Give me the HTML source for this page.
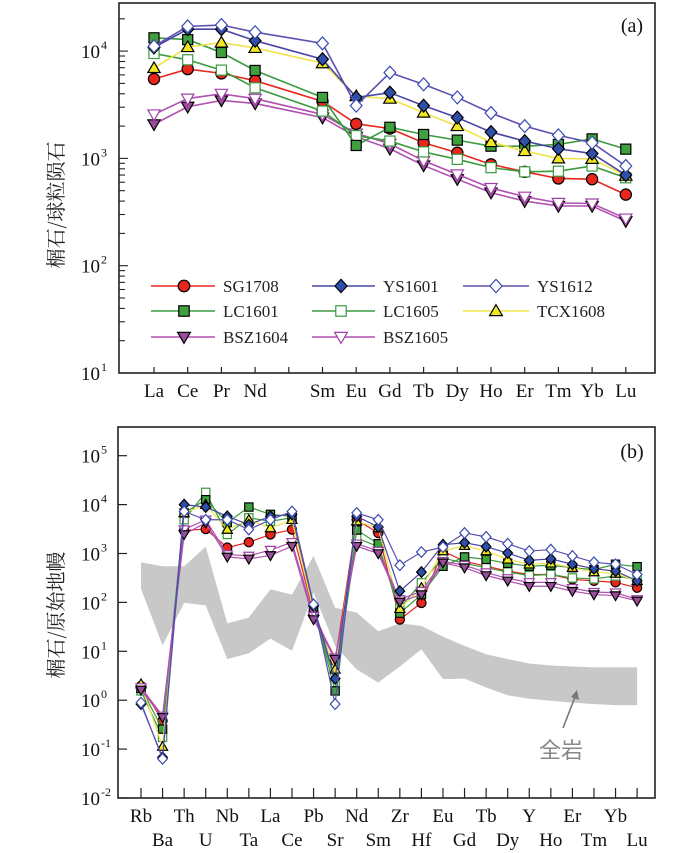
<!DOCTYPE html>
<html><head><meta charset="utf-8"><style>
html,body{margin:0;padding:0;background:#fff;}
svg{display:block;font-family:"Liberation Serif","Noto Serif CJK SC",serif;}
</style></head><body>
<svg id="chart" width="700" height="853" viewBox="0 0 700 853" xmlns="http://www.w3.org/2000/svg"></svg>
<script>
// ---------- Data: chart (a) chondrite-normalized REE ----------
const reeCategories = ["La","Ce","Pr","Nd","Pm","Sm","Eu","Gd","Tb","Dy","Ho","Er","Tm","Yb","Lu"];
const reeSG1708  = [5500,6800,6200,5300,null,3400,2100,1900,1400,1130,880,750,650,640,460];
const reeYS1601  = [10800,16000,16000,12500,null,8400,3700,4100,3100,2400,1760,1450,1230,1110,700];
const reeYS1612  = [11100,17000,17500,15000,null,11800,3100,6300,4900,3700,2650,2000,1640,1400,850];
const reeLC1601  = [13300,12800,9700,6600,null,3700,1320,1950,1670,1480,1300,1300,1350,1520,1220];
const reeLC1605  = [9500,8300,6650,4550,null,2760,1630,1450,1150,980,820,750,760,850,660];
const reeTCX1608 = [6950,10900,12000,10700,null,7700,3800,3600,2670,2000,1420,1170,1000,990,690];
const reeBSZ1604 = [2080,3030,3470,3250,null,2400,1590,1230,860,640,480,400,360,360,260];
const reeBSZ1605 = [2570,3610,4000,3600,null,2570,1710,1370,950,710,530,440,385,380,275];
const reeYTicks = [1,2,3,4];

// ---------- Data: chart (b) primitive-mantle normalized (log10 values) ----------
const pmCategories = ["Rb","Ba","Th","U","Nb","Ta","La","Ce","Pb","Sr","Nd","Sm","Zr","Hf","Eu","Gd","Tb","Dy","Y","Ho","Er","Tm","Yb","Lu"];
const pmSG1708  = [0.29,-0.42,3.47,3.50,3.12,3.23,3.39,3.49,1.79,0.80,3.69,3.42,1.65,1.99,3.05,2.84,2.74,2.64,2.57,2.57,2.47,2.44,2.41,2.30];
const pmYS1601  = [-0.08,-1.17,4.00,3.95,3.76,3.59,3.76,3.80,1.93,0.44,3.76,3.54,2.23,2.62,3.18,3.22,3.14,3.01,2.86,2.89,2.78,2.69,2.64,2.44];
const pmYS1612  = [-0.05,-1.20,3.86,3.69,3.69,3.49,3.69,3.86,1.96,-0.08,3.83,3.69,2.76,3.03,3.13,3.42,3.34,3.20,3.05,3.08,2.95,2.82,2.78,2.57];
const pmLC1601  = [0.24,-0.59,3.83,4.10,3.63,3.95,3.80,3.76,1.86,0.19,3.48,3.20,1.78,2.16,2.74,2.93,2.88,2.80,2.74,2.76,2.71,2.67,2.78,2.73];
const pmLC1605  = [0.19,-0.76,3.69,4.25,3.39,3.73,3.66,3.73,1.86,0.36,3.32,3.14,1.89,2.40,2.91,2.80,2.71,2.62,2.55,2.57,2.50,2.48,2.54,2.47];
const pmTCX1608 = [0.33,-0.95,3.83,4.00,3.49,3.69,3.52,3.69,1.82,0.63,3.66,3.52,1.87,2.30,3.05,3.16,3.05,2.88,2.78,2.80,2.71,2.62,2.59,2.44];
const pmBSZ1604 = [0.21,-0.35,3.39,3.63,2.93,2.89,2.96,3.15,1.65,0.84,3.15,3.00,2.01,2.16,2.81,2.71,2.55,2.44,2.33,2.33,2.23,2.16,2.14,2.03];
const pmBSZ1605 = [0.26,-0.32,3.49,3.69,2.98,2.95,3.07,3.23,1.72,0.87,3.20,3.05,2.06,2.23,2.84,2.76,2.61,2.49,2.41,2.41,2.29,2.21,2.20,2.06];
const wholeRockUpper = [2.82,2.74,2.74,3.14,1.57,1.69,2.27,2.16,2.95,1.89,1.79,1.41,1.57,1.52,1.30,1.11,0.94,0.84,0.75,0.71,0.69,0.67,0.67,0.67];
const wholeRockLower = [2.28,1.12,1.99,1.94,0.84,0.96,1.26,1.01,2.20,1.11,0.63,0.36,0.69,1.04,0.43,0.44,0.26,0.10,0.03,-0.01,-0.05,-0.08,-0.10,-0.10];
const pmYTicks = [-2,-1,0,1,2,3,4,5];

const seriesNames = ["SG1708","YS1601","YS1612","LC1601","LC1605","TCX1608","BSZ1604","BSZ1605"];

const styles = {
 SG1708:{line:"#e8261e",fill:"#e8261e",stroke:"#000",shape:"circle"},
 YS1601:{line:"#4a46a8",fill:"#2f4fa8",stroke:"#000",shape:"diamond"},
 YS1612:{line:"#5a50b0",fill:"#fff",stroke:"#3a4ab0",shape:"diamond"},
 LC1601:{line:"#3a9a3e",fill:"#3fa040",stroke:"#000",shape:"square"},
 LC1605:{line:"#3a9a3e",fill:"#fff",stroke:"#3a9a3e",shape:"square"},
 TCX1608:{line:"#f0e448",fill:"#f2e820",stroke:"#000",shape:"up"},
 BSZ1604:{line:"#b050b0",fill:"#9a4c9a",stroke:"#000",shape:"down"},
 BSZ1605:{line:"#b050b0",fill:"#fff",stroke:"#a040a8",shape:"down"}
};

const svg = document.getElementById('chart');
const NS = "http://www.w3.org/2000/svg";
function el(tag, attrs, parent){
  const e = document.createElementNS(NS, tag);
  for (const k in attrs) e.setAttribute(k, attrs[k]);
  (parent||svg).appendChild(e);
  return e;
}
function marker(g, shape, x, y, r, st){
  let m;
  const sw = 1.2;
  if (shape==="circle") m = el('circle',{cx:x,cy:y,r:r,fill:st.fill,stroke:st.stroke,'stroke-width':sw},g);
  else if (shape==="square") m = el('rect',{x:x-r*0.9,y:y-r*0.9,width:r*1.8,height:r*1.8,fill:st.fill,stroke:st.stroke,'stroke-width':sw},g);
  else if (shape==="diamond") m = el('polygon',{points:`${x},${y-r*1.15} ${x+r*1.05},${y} ${x},${y+r*1.15} ${x-r*1.05},${y}`,fill:st.fill,stroke:st.stroke,'stroke-width':sw},g);
  else if (shape==="up") m = el('polygon',{points:`${x},${y-r*1.1} ${x+r*1.1},${y+r*0.8} ${x-r*1.1},${y+r*0.8}`,fill:st.fill,stroke:st.stroke,'stroke-width':sw},g);
  else m = el('polygon',{points:`${x},${y+r*1.1} ${x+r*1.1},${y-r*0.8} ${x-r*1.1},${y-r*0.8}`,fill:st.fill,stroke:st.stroke,'stroke-width':sw},g);
  return m;
}

// ========== Chart (a) ==========
const A = {left:119,right:655,top:3,bottom:373};
const ax = i => 154 + i*33.7;
const ay = v => 373 - (Math.log10(v)-1)*107.3;

const gA = el('g',{});



const reeData = {SG1708:reeSG1708,YS1601:reeYS1601,YS1612:reeYS1612,LC1601:reeLC1601,LC1605:reeLC1605,TCX1608:reeTCX1608,BSZ1604:reeBSZ1604,BSZ1605:reeBSZ1605};
const drawOrderA = ["BSZ1604","BSZ1605","SG1708","LC1605","LC1601","TCX1608","YS1601","YS1612"];
drawOrderA.forEach(name=>{
  const st = styles[name], vals = reeData[name];
  const g = el('g',{},gA);
  
  
  const pts = [];
  vals.forEach((v,i)=>{ if(v!=null) pts.push([ax(i),ay(v)]); });
  const pl = el('polyline',{points:pts.map(p=>p.join(',')).join(' '),fill:'none',stroke:st.line,'stroke-width':1.6},g);
  
  
  pts.forEach(p=>{
    const m = marker(g, st.shape, p[0], p[1], 5.6, st);
    
    
  });
});

const fA = el('rect',{x:A.left,y:A.top,width:A.right-A.left,height:A.bottom-A.top,fill:'none',stroke:'#222','stroke-width':1.6},gA);


reeCategories.forEach((c,i)=>{
  el('line',{x1:ax(i),x2:ax(i),y1:A.bottom,y2:A.bottom-6,stroke:'#222','stroke-width':1.2},gA);
  if (c!=="Pm"){
    const t = el('text',{x:ax(i),y:397,'text-anchor':'middle','font-size':19,fill:'#111'},gA);
    t.textContent = c;
    
    
  }
});
for (let d=1; d<=4; d++){
  for (let k=1;k<=9;k++){
    const y = ay(k*Math.pow(10,d));
    if (y < A.top) continue;
    el('line',{x1:A.left,x2:A.left+(k===1?9:6),y1:y,y2:y,stroke:'#222','stroke-width':1.1},gA);
  }
}
reeYTicks.forEach(e=>{
  const t = el('text',{x:100,y:ay(Math.pow(10,e))+7,'text-anchor':'end','font-size':19,fill:'#111'},gA);
  t.textContent = '10';
  
  
  const s = el('text',{x:101,y:ay(Math.pow(10,e))-2,'font-size':12,fill:'#111'},gA);
  s.textContent = String(e);
});
const yTitleA = el('text',{x:0,y:0,transform:'translate(63,205) rotate(-90)','text-anchor':'middle','font-size':20,fill:'#222','font-family':'"Noto Serif CJK SC","Noto Sans CJK SC",serif'},gA);
yTitleA.textContent = '榍石/球粒陨石';


const labA = el('text',{x:632,y:32,'text-anchor':'middle','font-size':20,fill:'#111'},gA);
labA.textContent='(a)';



const legendCols = [[151,215,184,223],[312,375,341,383],[463,529,496,537]];
const legendRows = [286,311,337];
const legendLayout = [["SG1708","YS1601","YS1612"],["LC1601","LC1605","TCX1608"],["BSZ1604","BSZ1605"]];
const gL = el('g',{},gA);


legendLayout.forEach((row,ri)=>row.forEach((name,ci)=>{
  const st = styles[name], c = legendCols[ci], y = legendRows[ri];
  const g = el('g',{},gL);
  
  
  el('line',{x1:c[0],x2:c[1],y1:y,y2:y,stroke:st.line,'stroke-width':1.6},g);
  marker(g, st.shape, c[2], y, 5.8, st);
  const t = el('text',{x:c[3],y:y+6,'font-size':17,fill:'#222'},g);
  t.textContent = name;
}));

// ========== Chart (b) ==========
const B = {left:118,right:655,top:427,bottom:798};
const bx = i => 141 + i*21.57;
const by = lv => 798 - (lv+2)*48.9;

const gB = el('g',{});



const bandPts = wholeRockUpper.map((v,i)=>bx(i)+','+by(v)).concat(wholeRockLower.map((v,i)=>[i,v]).reverse().map(p=>bx(p[0])+','+by(p[1])));
const band = el('polygon',{points:bandPts.join(' '),fill:'#c8c8c8',stroke:'none'},gB);



const pmData = {SG1708:pmSG1708,YS1601:pmYS1601,YS1612:pmYS1612,LC1601:pmLC1601,LC1605:pmLC1605,TCX1608:pmTCX1608,BSZ1604:pmBSZ1604,BSZ1605:pmBSZ1605};
const drawOrderB = ["SG1708","LC1605","LC1601","TCX1608","BSZ1605","BSZ1604","YS1601","YS1612"];
drawOrderB.forEach(name=>{
  const st = styles[name], vals = pmData[name];
  const g = el('g',{},gB);
  
  
  const pts = vals.map((v,i)=>[bx(i),by(v)]);
  const pl = el('polyline',{points:pts.map(p=>p.join(',')).join(' '),fill:'none',stroke:st.line,'stroke-width':1.2},g);
  
  
  pts.forEach(p=>{
    const m = marker(g, st.shape, p[0], p[1], 4.6, st);
    
    
  });
});

const fB = el('rect',{x:B.left,y:B.top,width:B.right-B.left,height:B.bottom-B.top,fill:'none',stroke:'#222','stroke-width':1.6},gB);


pmCategories.forEach((c,i)=>{
  el('line',{x1:bx(i),x2:bx(i),y1:B.bottom,y2:B.bottom-10,stroke:'#222','stroke-width':1.2},gB);
  const t = el('text',{x:bx(i),y:(i%2===0)?822:846,'text-anchor':'middle','font-size':19,fill:'#111'},gB);
  t.textContent = c;
  
  
});
pmYTicks.forEach(e=>{
  const y = by(e);
  el('line',{x1:B.left,x2:B.left+9,y1:y,y2:y,stroke:'#222','stroke-width':1.2},gB);
  const t = el('text',{x:100,y:y+7,'text-anchor':'end','font-size':19,fill:'#111'},gB);
  t.textContent = '10';
  
  
  const s = el('text',{x:101,y:y-2,'font-size':12,fill:'#111'},gB);
  s.textContent = String(e);
});
const yTitleB = el('text',{x:0,y:0,transform:'translate(63,615) rotate(-90)','text-anchor':'middle','font-size':20,fill:'#222','font-family':'"Noto Serif CJK SC","Noto Sans CJK SC",serif'},gB);
yTitleB.textContent = '榍石/原始地幔';


const labB = el('text',{x:632,y:458,'text-anchor':'middle','font-size':20,fill:'#111'},gB);
labB.textContent='(b)';



const arr = el('g',{},gB);


el('line',{x1:563,y1:728,x2:575,y2:697,stroke:'#777','stroke-width':1.6},arr);
el('polygon',{points:'577,690 579,700 571,697',fill:'#777'},arr);
const ann = el('text',{x:561,y:758,'text-anchor':'middle','font-size':22,fill:'#888','font-family':'"Noto Sans CJK SC",sans-serif'},arr);
ann.textContent='全岩';
</script>
</body></html>
